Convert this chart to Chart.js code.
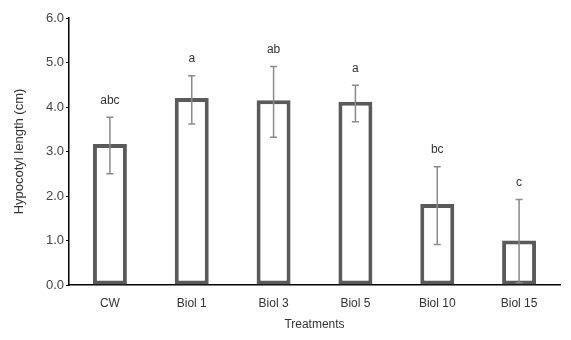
<!DOCTYPE html>
<html lang="en">
<head>
  <meta charset="UTF-8">
  <title>Hypocotyl length</title>
  <script src="https://cdn.jsdelivr.net/npm/chart.js"></script>
  <style>
    body {
      margin: 0;
      background: #fff;
    }
    #wrap {
      width: 571px;
      height: 340px;
    }
  </style>
</head>
<body>
  <div id="wrap"><canvas id="hypoChart" width="571" height="340"></canvas></div>

  <script>
    const treatments = ['CW', 'Biol 1', 'Biol 3', 'Biol 5', 'Biol 10', 'Biol 15'];
    const hypocotyl = [3.17, 4.20, 4.15, 4.12, 1.82, 1.00];
    const errUpper = [3.77, 4.70, 4.91, 4.49, 2.66, 1.92];
    const errLower = [2.50, 3.62, 3.32, 3.67, 0.91, 0.05];
    const letters = ['abc', 'a', 'ab', 'a', 'bc', 'c'];

    const FONT = "'Liberation Sans', Arial, sans-serif";

    // error bars + significance letters
    const errorBars = {
      id: 'errorBars',
      afterDatasetsDraw(chart) {
        const ctx = chart.ctx;
        const y = chart.scales.y;
        const meta = chart.getDatasetMeta(0);
        ctx.save();
        meta.data.forEach((bar, i) => {
          const x = bar.x;
          const top = y.getPixelForValue(errUpper[i]);
          const bot = y.getPixelForValue(errLower[i]);
          ctx.strokeStyle = '#8a8a8a';
          ctx.lineWidth = 1.5;
          ctx.beginPath();
          ctx.moveTo(x, top); ctx.lineTo(x, bot);
          ctx.moveTo(x - 3.5, top); ctx.lineTo(x + 3.5, top);
          ctx.moveTo(x - 3.5, bot); ctx.lineTo(x + 3.5, bot);
          ctx.stroke();

          ctx.fillStyle = '#333';
          ctx.font = '12px ' + FONT;
          ctx.textAlign = 'center';
          ctx.textBaseline = 'middle';
          ctx.fillText(letters[i], x, top - 17);
        });
        ctx.restore();
      }
    };

    const ctx = document.getElementById('hypoChart').getContext('2d');
    new Chart(ctx, {
      type: 'bar',
      data: {
        labels: treatments,
        datasets: [{
          data: hypocotyl,
          backgroundColor: '#ffffff',
          borderColor: '#5a5a5a',
          borderWidth: 4,
          borderSkipped: false,
          categoryPercentage: 1,
          barPercentage: 0.415
        }]
      },
      options: {
        responsive: false,
        animation: false,
        layout: { padding: { left: 0, right: 11, top: 18, bottom: 0 } },
        plugins: {
          legend: { display: false },
          tooltip: { enabled: false }
        },
        scales: {
          x: {
            grid: { display: false, drawTicks: false },
            border: { color: '#000', width: 1.5 },
            ticks: { color: '#333', font: { family: FONT, size: 12 }, padding: 11 },
            title: {
              display: true,
              text: 'Treatments',
              color: '#333',
              font: { family: FONT, size: 12 },
              padding: { top: 0, bottom: 8 }
            },
            afterFit(scale) { scale.height = 55; }
          },
          y: {
            min: 0,
            max: 6,
            grid: { drawOnChartArea: false, tickLength: 3, tickColor: '#000' },
            border: { color: '#000', width: 1.5 },
            ticks: {
              stepSize: 1,
              color: '#444',
              padding: 2,
              font: { family: FONT, size: 13 },
              callback: v => v.toFixed(1)
            },
            title: {
              display: true,
              text: 'Hypocotyl length (cm)',
              color: '#333',
              font: { family: FONT, size: 13 },
              padding: { top: 12, bottom: 0 }
            },
            afterFit(scale) { scale.width = 69; }
          }
        }
      },
      plugins: [errorBars]
    });
  </script>
</body>
</html>
